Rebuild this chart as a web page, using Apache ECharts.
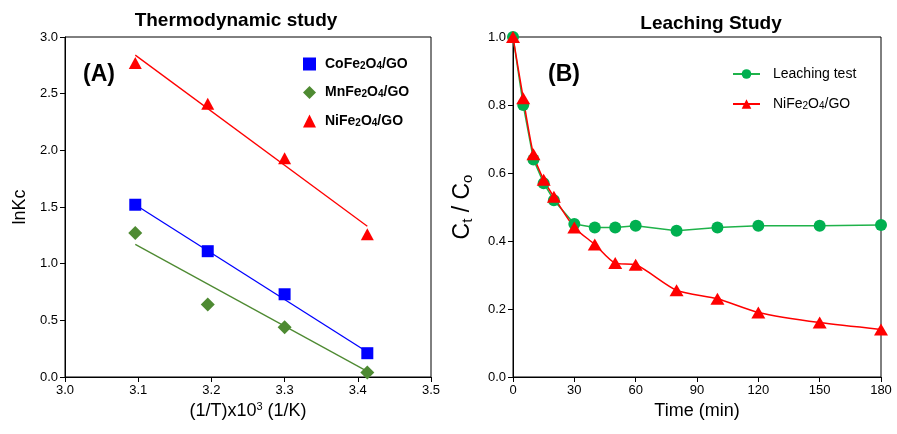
<!DOCTYPE html>
<html><head><meta charset="utf-8">
<script src="https://cdn.jsdelivr.net/npm/echarts@6/dist/echarts.min.js"></script>
<style>html,body{margin:0;padding:0;background:#fff}#c{width:897px;height:434px}</style>
</head><body><div id="c"></div>
<script>
// ---- data ----
const tempX = [3.096, 3.195, 3.300, 3.413];
const coLnKc = [1.52, 1.11, 0.73, 0.21];
const mnLnKc = [1.27, 0.64, 0.44, 0.04];
const niLnKc = [2.77, 2.41, 1.93, 1.26];
const fitX = [3.096, 3.413];
const coFit = [1.52, 0.22];
const mnFit = [1.17, 0.05];
const niFit = [2.84, 1.33];

const timeMin = [0, 5, 10, 15, 20, 30, 40, 50, 60, 80, 100, 120, 150, 180];
const leachTest = [1.0, 0.80, 0.64, 0.57, 0.52, 0.45, 0.44, 0.44, 0.445, 0.43, 0.44, 0.445, 0.445, 0.447];
const niLeach = [1.0, 0.82, 0.655, 0.58, 0.53, 0.44, 0.39, 0.335, 0.33, 0.255, 0.23, 0.19, 0.16, 0.14];

const leftLegend = ['CoFe2O4/GO', 'MnFe2O4/GO', 'NiFe2O4/GO'];
const rightLegend = ['Leaching test', 'NiFe2O4/GO '];

const zip = (a, b) => a.map((v, i) => [v, b[i]]);
const SANS = '"Liberation Sans", Arial, sans-serif';
const subFmt = (name) => name.replace(/(\d)/g, '{s|$1}').replace(/([^{}|\d]+)(?![^{]*\})/g, '{b|$1}');

const axisCommon = {
  axisLine: {show: true, lineStyle: {color: '#000', width: 1}},
  axisTick: {show: true, inside: false, length: 5, lineStyle: {color: '#000'}},
  splitLine: {show: false},
  axisLabel: {color: '#000', fontFamily: SANS, fontSize: 13, margin: 7}
};

const chart = echarts.init(document.getElementById('c'), null, {renderer: 'canvas'});
chart.setOption({
  animation: false,
  title: [
    {text: 'Thermodynamic study', left: 231, top: 6, textAlign: 'center',
     textStyle: {fontFamily: SANS, fontWeight: 'bold', fontSize: 19, color: '#000'}},
    {text: 'Leaching Study', left: 706, top: 9, textAlign: 'center',
     textStyle: {fontFamily: SANS, fontWeight: 'bold', fontSize: 19, color: '#000'}},
    {text: '(A)', left: 78, top: 58, textStyle: {fontFamily: SANS, fontWeight: 'bold', fontSize: 23, color: '#000'}},
    {text: '(B)', left: 543, top: 58, textStyle: {fontFamily: SANS, fontWeight: 'bold', fontSize: 23, color: '#000'}}
  ],
  grid: [
    {left: 65, right: 466, top: 37, bottom: 57, show: true, borderColor: '#000', borderWidth: 1},
    {left: 513, right: 16, top: 37, bottom: 57, show: true, borderColor: '#000', borderWidth: 1}
  ],
  legend: [
    {orient: 'vertical', left: 298, top: 52, itemGap: 14.5, itemWidth: 13, itemHeight: 13,
     data: leftLegend,
     formatter: subFmt,
     textStyle: {padding: [0, 0, 0, 4], rich: {
       b: {fontFamily: SANS, fontWeight: 'bold', fontSize: 14, color: '#000'},
       s: {fontFamily: SANS, fontWeight: 'bold', fontSize: 10, color: '#000', verticalAlign: 'bottom', padding: [4, 0, 0, 0]}
     }}},
    {orient: 'vertical', left: 727, top: 62, itemGap: 16, itemWidth: 27, itemHeight: 12,
     data: rightLegend,
     formatter: (n) => subFmt(n.trim()),
     textStyle: {padding: [0, 0, 0, 8], rich: {
       b: {fontFamily: SANS, fontSize: 14, color: '#000'},
       s: {fontFamily: SANS, fontSize: 10, color: '#000', verticalAlign: 'bottom', padding: [4, 0, 0, 0]}
     }}}
  ],
  xAxis: [
    Object.assign({}, axisCommon, {gridIndex: 0, type: 'value', min: 3.0, max: 3.5, interval: 0.1,
      axisLabel: Object.assign({}, axisCommon.axisLabel, {formatter: v => v.toFixed(1)}),
      name: '(1/T)x10{sup|3} (1/K)', nameLocation: 'middle', nameGap: 22,
      nameTextStyle: {fontFamily: SANS, fontSize: 18, color: '#000',
        rich: {sup: {fontFamily: SANS, fontSize: 11, color: '#000', verticalAlign: 'top', padding: [0, 0, 8, 0]}}}}),
    Object.assign({}, axisCommon, {gridIndex: 1, type: 'value', min: 0, max: 180, interval: 30,
      name: 'Time (min)', nameLocation: 'middle', nameGap: 22,
      nameTextStyle: {fontFamily: SANS, fontSize: 18, color: '#000'}})
  ],
  yAxis: [
    Object.assign({}, axisCommon, {gridIndex: 0, type: 'value', min: 0, max: 3, interval: 0.5,
      axisLabel: Object.assign({}, axisCommon.axisLabel, {formatter: v => v.toFixed(1)}),
      name: 'lnKc', nameLocation: 'middle', nameGap: 36,
      nameTextStyle: {fontFamily: SANS, fontSize: 18, color: '#000'}}),
    Object.assign({}, axisCommon, {gridIndex: 1, type: 'value', min: 0, max: 1, interval: 0.2,
      axisLabel: Object.assign({}, axisCommon.axisLabel, {formatter: v => v.toFixed(1)}),
      name: '{b|C}{s|t}{b| / C}{s|o}', nameLocation: 'middle', nameGap: 38,
      nameTextStyle: {rich: {
        b: {fontFamily: SANS, fontSize: 23, color: '#000'},
        s: {fontFamily: SANS, fontSize: 15, color: '#000', verticalAlign: 'bottom', padding: [9, 0, 0, 0]}}}})
  ],
  series: [
    {name: 'fitCo', type: 'line', xAxisIndex: 0, yAxisIndex: 0, data: zip(fitX, coFit), showSymbol: false,
     lineStyle: {color: '#0000ff', width: 1.3}, itemStyle: {color: '#0000ff'}, silent: true},
    {name: 'fitMn', type: 'line', xAxisIndex: 0, yAxisIndex: 0, data: zip(fitX, mnFit), showSymbol: false,
     lineStyle: {color: '#4e8a32', width: 1.3}, itemStyle: {color: '#4e8a32'}, silent: true},
    {name: 'fitNi', type: 'line', xAxisIndex: 0, yAxisIndex: 0, data: zip(fitX, niFit), showSymbol: false,
     lineStyle: {color: '#ff0000', width: 1.3}, itemStyle: {color: '#ff0000'}, silent: true},
    {name: leftLegend[0], type: 'scatter', xAxisIndex: 0, yAxisIndex: 0, data: zip(tempX, coLnKc),
     symbol: 'rect', symbolSize: 12, itemStyle: {color: '#0000ff', opacity: 1}},
    {name: leftLegend[1], type: 'scatter', xAxisIndex: 0, yAxisIndex: 0, data: zip(tempX, mnLnKc),
     symbol: 'diamond', symbolSize: 14, itemStyle: {color: '#4e8a32', opacity: 1}},
    {name: leftLegend[2], type: 'scatter', xAxisIndex: 0, yAxisIndex: 0, data: zip(tempX, niLnKc),
     symbol: 'triangle', symbolSize: [13, 12], itemStyle: {color: '#ff0000', opacity: 1}},
    {name: rightLegend[0], type: 'line', xAxisIndex: 1, yAxisIndex: 1, data: zip(timeMin, leachTest),
     symbol: 'circle', symbolSize: 12, showAllSymbol: true,
     lineStyle: {color: '#1fb24a', width: 1.5}, itemStyle: {color: '#00b050', borderWidth: 0}},
    {name: rightLegend[1], type: 'line', xAxisIndex: 1, yAxisIndex: 1, data: zip(timeMin, niLeach),
     symbol: 'triangle', symbolSize: [14, 12], showAllSymbol: true, smooth: 0.25,
     lineStyle: {color: '#ff0000', width: 1.5}, itemStyle: {color: '#ff0000', borderWidth: 0}}
  ]
});
</script></body></html>
